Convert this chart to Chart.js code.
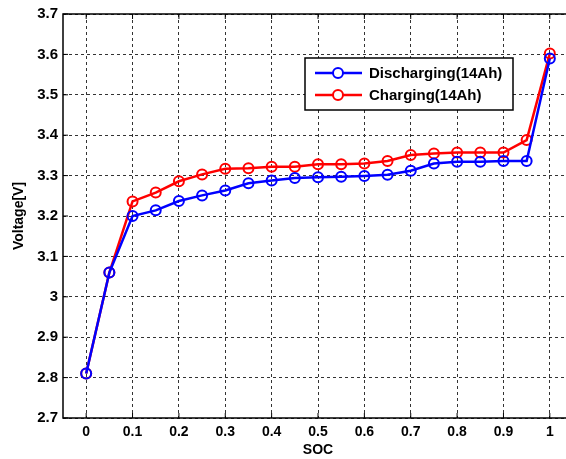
<!DOCTYPE html>
<html>
<head>
<meta charset="utf-8">
<script src="https://cdn.jsdelivr.net/npm/chart.js@4"></script>
<style>
  html, body { margin: 0; padding: 0; background: #fff; overflow: hidden; }
  #chart { display: block; }
</style>
</head>
<body>
<canvas id="chart" width="580" height="459"></canvas>
<script>
// SOC values (x axis)
const soc = [0, 0.05, 0.1, 0.15, 0.2, 0.25, 0.3, 0.35, 0.4, 0.45, 0.5,
             0.55, 0.6, 0.65, 0.7, 0.75, 0.8, 0.85, 0.9, 0.95, 1];

// voltages
const discharging = [2.81, 3.06, 3.200, 3.214, 3.237, 3.251, 3.263, 3.281, 3.288, 3.294, 3.296,
                     3.297, 3.299, 3.302, 3.312, 3.330, 3.334, 3.334, 3.336, 3.336, 3.59];
const charging = [2.81, 3.06, 3.236, 3.258, 3.286, 3.303, 3.317, 3.318, 3.322, 3.322, 3.328,
                  3.328, 3.330, 3.336, 3.351, 3.355, 3.357, 3.357, 3.357, 3.388, 3.602];

const seriesNames = ['Discharging(14Ah)', 'Charging(14Ah)'];
const xTicks = [0, 0.1, 0.2, 0.3, 0.4, 0.5, 0.6, 0.7, 0.8, 0.9, 1];
const yTicks = [2.7, 2.8, 2.9, 3.0, 3.1, 3.2, 3.3, 3.4, 3.5, 3.6, 3.7];

const FONT = 'Liberation Sans, Arial, sans-serif';

// cadre + légende dans la zone du graphique
const framePlugin = {
  id: 'frame',
  afterDatasetsDraw(chart) {
    const { ctx, chartArea: a } = chart;
    ctx.save();
    ctx.strokeStyle = '#000';
    ctx.lineWidth = 1.5;
    ctx.strokeRect(a.left, a.top, a.right - a.left, a.bottom - a.top);

    // petites graduations vers l'intérieur
    ctx.lineWidth = 1;
    const xs = chart.scales.x, ys = chart.scales.y;
    xTicks.forEach(v => {
      const px = xs.getPixelForValue(v);
      ctx.beginPath();
      ctx.moveTo(px, a.bottom); ctx.lineTo(px, a.bottom - 5);
      ctx.moveTo(px, a.top); ctx.lineTo(px, a.top + 5);
      ctx.stroke();
    });
    yTicks.forEach(v => {
      const py = ys.getPixelForValue(v);
      ctx.beginPath();
      ctx.moveTo(a.left, py); ctx.lineTo(a.left + 5, py);
      ctx.stroke();
    });

    // légende encadrée
    const bx = 305, by = 58, bw = 208, bh = 52;
    ctx.fillStyle = '#fff';
    ctx.fillRect(bx, by, bw, bh);
    ctx.lineWidth = 1.5;
    ctx.strokeRect(bx, by, bw, bh);
    chart.data.datasets.forEach((ds, i) => {
      const y = by + 15 + i * 22;
      ctx.strokeStyle = ds.borderColor;
      ctx.lineWidth = 2.5;
      ctx.beginPath();
      ctx.moveTo(315, y);
      ctx.lineTo(362, y);
      ctx.stroke();
      ctx.lineWidth = 2;
      ctx.beginPath();
      ctx.arc(338, y, 5, 0, Math.PI * 2);
      ctx.fillStyle = '#fff';
      ctx.fill();
      ctx.stroke();
      ctx.fillStyle = '#000';
      ctx.font = 'bold 15px ' + FONT;
      ctx.textBaseline = 'middle';
      ctx.textAlign = 'left';
      ctx.fillText(ds.label, 369, y + 1);
    });
    ctx.restore();
  }
};

const toPoints = arr => arr.map((v, i) => ({ x: soc[i], y: v }));

new Chart(document.getElementById('chart'), {
  type: 'line',
  data: {
    datasets: [
      {
        label: seriesNames[0],
        data: toPoints(discharging),
        borderColor: '#0000ff',
        backgroundColor: '#ffffff',
        borderWidth: 2.5,
        pointRadius: 5,
        pointBorderWidth: 2,
        pointBackgroundColor: 'rgba(255,255,255,0)',
        tension: 0
      },
      {
        label: seriesNames[1],
        data: toPoints(charging),
        borderColor: '#ff0000',
        backgroundColor: '#ffffff',
        borderWidth: 2.5,
        pointRadius: 5,
        pointBorderWidth: 2,
        pointBackgroundColor: 'rgba(255,255,255,0)',
        tension: 0
      }
    ]
  },
  options: {
    responsive: false,
    animation: false,
    devicePixelRatio: 1,
    layout: { padding: { top: 14, right: 4, left: 11, bottom: 0 } },
    plugins: {
      legend: { display: false },
      tooltip: { enabled: false }
    },
    scales: {
      x: {
        type: 'linear',
        min: -0.05,
        max: 1.05,
        afterBuildTicks: s => { s.ticks = xTicks.map(v => ({ value: v })); },
        afterFit: s => { s.height = 41; },
        border: { display: false, dash: [3, 3] },
        grid: { color: '#333', lineWidth: 1, tickLength: 0, drawTicks: false },
        ticks: {
          color: '#000',
          padding: 6,
          maxRotation: 0,
          font: { family: FONT, size: 14, weight: 'bold' },
          callback: v => String(+v.toFixed(2))
        },
        title: {
          display: true,
          text: 'SOC',
          color: '#000',
          padding: { top: 0, bottom: 0 },
          font: { family: FONT, size: 14, weight: 'bold' }
        }
      },
      y: {
        min: 2.7,
        max: 3.7,
        afterBuildTicks: s => { s.ticks = yTicks.map(v => ({ value: v })); },
        afterFit: s => { s.width = 52; },
        border: { display: false, dash: [3, 3] },
        grid: { color: '#333', lineWidth: 1, tickLength: 0, drawTicks: false },
        ticks: {
          color: '#000',
          padding: 5,
          font: { family: FONT, size: 15, weight: 'bold' },
          callback: v => String(+v.toFixed(2))
        },
        title: {
          display: true,
          text: 'Voltage[V]',
          color: '#000',
          padding: { top: 0, bottom: 2 },
          font: { family: FONT, size: 14, weight: 'bold' }
        }
      }
    }
  },
  plugins: [framePlugin]
});
</script>
</body>
</html>
